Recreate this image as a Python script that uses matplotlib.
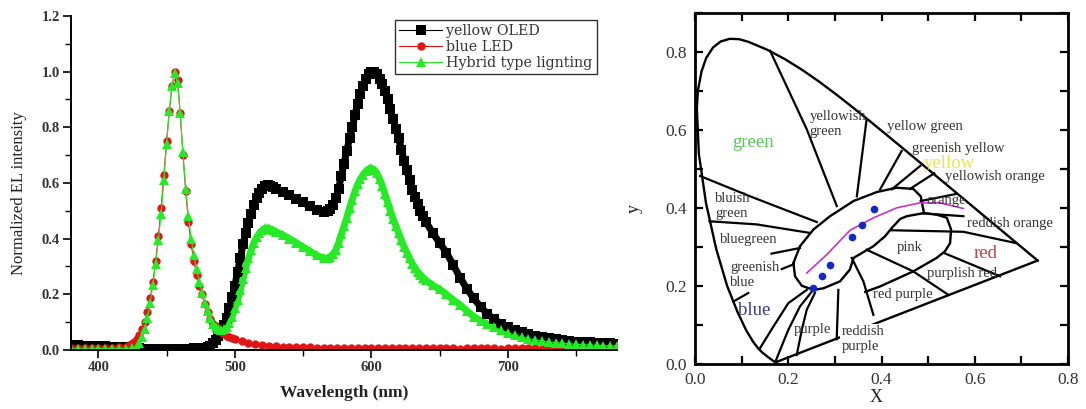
import matplotlib
matplotlib.use('Agg')
import matplotlib.pyplot as plt
from matplotlib.ticker import MultipleLocator, FormatStrFormatter

plt.rcParams['font.family'] = ['Liberation Serif', 'DejaVu Serif']

# ---------------- EL spectra ----------------
oled_nm = [380, 385, 390, 395, 400, 405, 410, 415, 420, 425, 430, 435, 440, 445, 450, 455, 460, 465, 470, 475,
           480, 482, 484, 486, 488, 490, 492, 494, 496, 498, 500, 502, 504, 506, 508, 510, 512, 514, 516, 518,
           520, 522, 524, 526, 528, 530,
           535, 540, 545, 550, 555, 560, 565,
           568, 570, 572, 574, 576, 578, 580, 582, 584, 586, 588, 590, 592, 594, 596, 598, 600, 602, 604, 606,
           608, 610, 612, 614, 616, 618, 620, 622, 624, 626, 628, 630, 632, 634, 636, 638, 640,
           645, 650, 655, 660, 665, 670, 675, 680, 685, 690, 695, 700, 705, 710, 715, 720, 725, 730, 735, 740,
           745, 750, 755, 760, 765, 770, 775, 780]
oled_el = [0.018, 0.017, 0.016, 0.015, 0.014, 0.013, 0.012, 0.011, 0.009, 0.007, 0.006, 0.005, 0.005, 0.005,
           0.005, 0.005, 0.005, 0.005, 0.006, 0.007,
           0.010, 0.015, 0.025, 0.035, 0.05, 0.07, 0.09, 0.115, 0.15, 0.19, 0.23, 0.28, 0.33, 0.38, 0.42, 0.455,
           0.49, 0.52, 0.545, 0.565, 0.58, 0.588, 0.592, 0.59, 0.586, 0.58,
           0.568, 0.556, 0.543, 0.53, 0.516, 0.503, 0.497,
           0.50, 0.505, 0.52, 0.545, 0.58, 0.625, 0.67, 0.715, 0.76, 0.80, 0.845, 0.885, 0.92, 0.95, 0.975, 0.993,
           1.0, 0.998, 0.99, 0.975, 0.955, 0.93, 0.90, 0.865, 0.83, 0.795, 0.76, 0.72, 0.68, 0.645, 0.61, 0.575,
           0.55, 0.525, 0.50, 0.48, 0.46,
           0.42, 0.385, 0.35, 0.305, 0.26, 0.22, 0.185, 0.155, 0.13, 0.11, 0.095, 0.083, 0.073, 0.065, 0.057,
           0.051, 0.046, 0.042, 0.038, 0.035, 0.032, 0.03, 0.028, 0.027, 0.026, 0.025, 0.024, 0.023]

led_nm = [380, 385, 390, 395, 400, 405, 410, 415, 420,
          422, 424, 426, 428, 430, 432, 434, 436, 438, 440, 442, 444, 446, 448, 450, 452, 454, 456, 458, 460,
          462, 464, 466, 468, 470, 472, 474, 476, 478, 480, 482, 484, 486, 488, 490, 492, 494, 496, 498, 500,
          505, 510, 515, 520, 525, 530, 535, 540, 545, 550, 555, 560, 565, 570, 575, 580, 585, 590, 595, 600,
          605, 610, 615, 620, 625, 630, 635, 640, 645, 650, 655, 660, 665, 670, 675, 680, 685, 690, 695, 700,
          705, 710, 715, 720, 725, 730, 735, 740, 745, 750, 755, 760, 765, 770, 775, 780]
led_el = [0.006, 0.006, 0.006, 0.006, 0.007, 0.007, 0.008, 0.009, 0.012,
          0.015, 0.02, 0.028, 0.04, 0.055, 0.075, 0.10, 0.135, 0.185, 0.245, 0.32, 0.41, 0.51, 0.63, 0.75, 0.86,
          0.95, 1.0, 0.97, 0.85, 0.70, 0.57, 0.46, 0.38, 0.32, 0.27, 0.23, 0.20, 0.165, 0.135, 0.11, 0.095,
          0.085, 0.075, 0.066, 0.058, 0.052, 0.047, 0.043, 0.039,
          0.031, 0.025, 0.02, 0.017, 0.015, 0.013, 0.012, 0.011, 0.01, 0.009, 0.009, 0.008, 0.008, 0.008, 0.007,
          0.008, 0.007, 0.007, 0.007, 0.007, 0.006, 0.007, 0.006, 0.006, 0.006, 0.007, 0.006, 0.006, 0.007,
          0.006, 0.006, 0.006, 0.005, 0.006, 0.006, 0.007, 0.006, 0.006, 0.005, 0.006, 0.006, 0.007, 0.006,
          0.006, 0.005, 0.005, 0.006, 0.005, 0.005, 0.005, 0.005, 0.005, 0.005, 0.005, 0.005, 0.005]

hybrid_nm = [380, 385, 390, 395, 400, 405, 410, 415, 420, 425,
             428, 430, 432, 434, 436, 438, 440, 442, 444, 446, 448, 450, 452, 454, 456, 458, 460, 462, 464, 466,
             468, 470, 472, 474, 476, 478, 480, 482, 484, 486, 488, 490, 492, 494, 496, 498, 500,
             502, 504, 506, 508, 510, 512, 514, 516, 518, 520, 522, 524, 526, 528, 530,
             535, 540, 545, 550, 555, 560, 565,
             568, 570, 572, 574, 576, 578, 580, 582, 584, 586, 588, 590, 592, 594, 596, 598, 600, 602, 604, 606,
             608, 610, 612, 614, 616, 618, 620, 622, 624, 626, 628, 630, 632, 634, 636, 638, 640,
             645, 650, 655, 660, 665, 670, 675, 680, 685, 690, 695, 700, 705, 710, 715, 720, 725, 730, 735, 740,
             745, 750, 755, 760, 765, 770, 775, 780]
hybrid_el = [0.004, 0.004, 0.004, 0.004, 0.005, 0.005, 0.005, 0.005, 0.005, 0.006,
             0.012, 0.025, 0.045, 0.075, 0.115, 0.17, 0.235, 0.31, 0.395, 0.49, 0.61, 0.74, 0.86, 0.95, 0.995,
             0.96, 0.85, 0.71, 0.58, 0.48, 0.40, 0.34, 0.29, 0.245, 0.205, 0.17, 0.14, 0.115, 0.095, 0.082, 0.075,
             0.072, 0.075, 0.084, 0.098, 0.12, 0.15,
             0.18, 0.215, 0.255, 0.295, 0.33, 0.36, 0.385, 0.405, 0.42, 0.43, 0.437, 0.437, 0.434, 0.43, 0.425,
             0.413, 0.40, 0.385, 0.37, 0.355, 0.34, 0.33,
             0.33, 0.335, 0.345, 0.36, 0.385, 0.415, 0.445, 0.475, 0.51, 0.54, 0.57, 0.595, 0.615, 0.63, 0.642,
             0.65, 0.653, 0.648, 0.635, 0.615, 0.59, 0.56, 0.53, 0.50, 0.47, 0.445, 0.42, 0.395, 0.37, 0.35,
             0.33, 0.31, 0.295, 0.28, 0.27, 0.258, 0.25,
             0.232, 0.218, 0.20, 0.18, 0.162, 0.14, 0.12, 0.105, 0.093, 0.082, 0.071, 0.062, 0.054, 0.047, 0.041,
             0.036, 0.032, 0.029, 0.026, 0.024, 0.022, 0.02, 0.019, 0.018, 0.017, 0.016, 0.015, 0.015]

# ---------------- CIE 1931 diagram ----------------
locus_x = [0.1741, 0.1733, 0.1714, 0.1689, 0.1644, 0.1566, 0.1440, 0.1355, 0.1241, 0.1096, 0.0913, 0.0687,
           0.0454, 0.0235, 0.0082, 0.0039, 0.0060, 0.0139, 0.0240, 0.0389, 0.0550, 0.0743, 0.0940, 0.1142,
           0.1547, 0.1929, 0.2296, 0.2658, 0.3016, 0.3373, 0.3731, 0.4087, 0.4441, 0.4788, 0.5125, 0.5448,
           0.5752, 0.6029, 0.6270, 0.6658, 0.6915, 0.7079, 0.7190, 0.7260, 0.7300, 0.7334, 0.7347]
locus_y = [0.0050, 0.0048, 0.0051, 0.0069, 0.0109, 0.0177, 0.0297, 0.0399, 0.0578, 0.0868, 0.1327, 0.2007,
           0.2950, 0.4127, 0.5384, 0.6548, 0.7000, 0.7502, 0.7850, 0.8120, 0.8270, 0.8338, 0.8330, 0.8262,
           0.8059, 0.7816, 0.7543, 0.7243, 0.6923, 0.6589, 0.6245, 0.5896, 0.5547, 0.5202, 0.4866, 0.4544,
           0.4242, 0.3965, 0.3725, 0.3340, 0.3083, 0.2920, 0.2809, 0.2740, 0.2700, 0.2666, 0.2653]

# colour region boundaries, each a polyline of (x, y)
boundaries = [
    [(0.161, 0.803), (0.2395, 0.602), (0.304, 0.405)],
    [(0.368, 0.628), (0.347, 0.430)],
    [(0.443, 0.546), (0.397, 0.448)],
    [(0.483, 0.508), (0.422, 0.448)],
    [(0.513, 0.489), (0.461, 0.449)],
    [(0.560, 0.436), (0.484, 0.418)],
    [(0.5755, 0.379), (0.491, 0.386)],
    [(0.420, 0.343), (0.5755, 0.339), (0.6885, 0.310)],
    [(0.011, 0.482), (0.118, 0.430), (0.261, 0.364)],
    [(0.031, 0.366), (0.132, 0.358), (0.247, 0.336)],
    [(0.164, 0.283), (0.225, 0.2975)],
    [(0.186, 0.2435), (0.2095, 0.2547)],
    [(0.082, 0.160), (0.114, 0.182)],
    [(0.139, 0.040), (0.168, 0.096), (0.200, 0.156), (0.2395, 0.190)],
    [(0.173, 0.008), (0.200, 0.0875), (0.225, 0.1475), (0.250, 0.185)],
    [(0.218, 0.023), (0.229, 0.0875), (0.2395, 0.139), (0.257, 0.182)],
    [(0.3074, 0.190), (0.3038, 0.0635)],
    [(0.336, 0.272), (0.361, 0.212), (0.3825, 0.126)],
    [(0.368, 0.293), (0.468, 0.2375), (0.543, 0.1775)],
    [(0.533, 0.285), (0.654, 0.225)],
]

# white (achromatic) region and pink region outlines
white_x = [0.211, 0.225, 0.254, 0.2895, 0.340, 0.390, 0.4325, 0.468, 0.484, 0.491, 0.454, 0.440, 0.422,
           0.4075, 0.3825, 0.340, 0.332, 0.311, 0.275, 0.254, 0.229, 0.2145, 0.211]
white_y = [0.259, 0.302, 0.345, 0.379, 0.418, 0.441, 0.452, 0.449, 0.430, 0.387, 0.379, 0.372, 0.349,
           0.3275, 0.302, 0.272, 0.242, 0.212, 0.194, 0.190, 0.2006, 0.2246, 0.259]
pink_x = [0.491, 0.518, 0.540, 0.549, 0.547, 0.536, 0.518, 0.468, 0.397, 0.365]
pink_y = [0.387, 0.383, 0.375, 0.345, 0.310, 0.289, 0.272, 0.2375, 0.199, 0.185]

# Planckian locus and measured colour points
planck_x = [0.2395, 0.2824, 0.3324, 0.3825, 0.4325, 0.4826, 0.5255, 0.5755]
planck_y = [0.2332, 0.2804, 0.343, 0.3747, 0.4004, 0.4133, 0.4133, 0.3987]
cie_x = [0.2538, 0.2717, 0.2903, 0.3367, 0.3575, 0.3832]
cie_y = [0.1946, 0.2247, 0.2529, 0.3258, 0.3576, 0.3979]

region_names = ['green', 'yellowish\ngreen', 'yellow green', 'greenish yellow', 'yellow', 'yellowish orange',
                'orange', 'reddish orange', 'red', 'pink', 'purplish red', 'red purple', 'purple',
                'reddish\npurple', 'blue', 'greenish\nblue', 'bluegreen', 'bluish\ngreen']
region_xy = [(0.079, 0.568), (0.245, 0.615), (0.411, 0.610), (0.465, 0.552), (0.490, 0.514), (0.536, 0.482),
             (0.497, 0.418), (0.583, 0.360), (0.597, 0.283), (0.4325, 0.2975), (0.497, 0.233), (0.3825, 0.1775),
             (0.211, 0.0875), (0.3146, 0.064), (0.093, 0.137), (0.075, 0.229), (0.054, 0.319), (0.043, 0.405)]
accent = {'green': '#55c855', 'yellow': '#e6e64a', 'red': '#c83c3c', 'blue': '#363696'}

fig = plt.figure(figsize=(10.86, 4.09), dpi=100)

# ---------- left: spectra ----------
ax1 = fig.add_axes([0.0654, 0.1443, 0.5028, 0.8166])
BLACK, RED, GREEN = 'k', '#e01515', '#26ea26'

# thick band under the dense markers (OLED emission part only for the hybrid curve)
hyb_start = hybrid_nm.index(482)
ax1.plot(oled_nm, oled_el, color=BLACK, lw=5, solid_capstyle='butt')
ax1.plot(hybrid_nm[hyb_start:], hybrid_el[hyb_start:], color=GREEN, lw=5, solid_capstyle='butt')

ax1.plot(oled_nm, oled_el, '-s', color=BLACK, ms=7, mew=0, lw=0.8, label='yellow OLED')
ax1.plot(led_nm, led_el, '-o', color=RED, ms=6, mew=0, lw=0.8, label='blue LED')
ax1.plot(hybrid_nm, hybrid_el, '-^', color=GREEN, ms=7.5, mew=0, lw=0.8, label='Hybrid type lignting')
ax1.set_xlim(380, 780)
ax1.set_ylim(0, 1.2)
ax1.spines['top'].set_visible(False)
ax1.spines['right'].set_visible(False)
for s in ['left', 'bottom']:
    ax1.spines[s].set_linewidth(1.4)
ax1.xaxis.set_major_locator(MultipleLocator(100))
ax1.xaxis.set_minor_locator(MultipleLocator(50))
ax1.yaxis.set_major_locator(MultipleLocator(0.2))
ax1.yaxis.set_minor_locator(MultipleLocator(0.1))
ax1.yaxis.set_major_formatter(FormatStrFormatter('%.1f'))
ax1.tick_params(which='major', direction='out', length=6, width=1.2, labelsize=10.5,
                labelcolor='#333333', pad=2)
ax1.tick_params(which='minor', direction='out', length=4, width=1.0)
plt.setp(ax1.get_xticklabels() + ax1.get_yticklabels(), fontweight='bold')
ax1.set_xlabel('Wavelength (nm)', fontsize=12.5, fontweight='bold', color='#222222')
ax1.xaxis.set_label_coords(0.5, -0.105)
ax1.set_ylabel('Normalized EL intensity', fontsize=12, color='#222222')
ax1.yaxis.set_label_coords(-0.08, 0.47)
handles, labels = ax1.get_legend_handles_labels()
leg = fig.legend(handles, labels, loc='upper left', bbox_to_anchor=(0.3637, 0.951), frameon=True,
                 prop={'family': 'DejaVu Serif', 'size': 10.3},
                 fancybox=False, edgecolor='#333333', framealpha=1, handlelength=3.0, borderpad=0.3,
                 labelspacing=0.12, handletextpad=0.3, borderaxespad=0)
leg.get_frame().set_linewidth(1.0)
for t in leg.get_texts():
    t.set_color('#333333')

# ---------- right: CIE chromaticity ----------
ax2 = fig.add_axes([0.64, 0.11, 0.3435, 0.8582])
ax2.plot(locus_x, locus_y, color='k', lw=1.7)
ax2.plot([locus_x[0], locus_x[-1]], [locus_y[0], locus_y[-1]], color='k', lw=1.7)
for line in boundaries:
    ax2.plot([p[0] for p in line], [p[1] for p in line], color='k', lw=1.6)
ax2.plot(white_x, white_y, color='k', lw=1.7)
ax2.plot(pink_x, pink_y, color='k', lw=1.7)
ax2.plot(planck_x, planck_y, color='#c832c8', lw=1.2)
ax2.plot(cie_x, cie_y, 'o', color='#1428c8', ms=5.5, mew=0, zorder=6)

for name, (x, y) in zip(region_names, region_xy):
    if name in accent:
        ax2.text(x, y, name, color=accent[name], fontsize=13.5, ha='left', va='center')
    elif name == 'reddish\npurple':
        ax2.text(x, y, name, color='#333333', fontsize=10.5, ha='left', va='center', linespacing=1.2,
                 zorder=5, bbox=dict(facecolor='white', edgecolor='none', pad=1))
    else:
        ax2.text(x, y, name, color='#333333', fontsize=10.5, ha='left', va='center', linespacing=1.2)

ax2.set_xlim(0, 0.8)
ax2.set_ylim(0, 0.9)
for s in ax2.spines.values():
    s.set_linewidth(2)
ax2.xaxis.set_major_locator(MultipleLocator(0.2))
ax2.xaxis.set_minor_locator(MultipleLocator(0.1))
ax2.yaxis.set_major_locator(MultipleLocator(0.2))
ax2.yaxis.set_minor_locator(MultipleLocator(0.1))
ax2.xaxis.set_major_formatter(FormatStrFormatter('%.1f'))
ax2.yaxis.set_major_formatter(FormatStrFormatter('%.1f'))
ax2.tick_params(which='both', direction='in', top=True, right=True, length=6, width=1.6,
                labelsize=12.5, labelcolor='#333333', pad=6)
ax2.set_xlabel('X', fontsize=13, color='#222222')
ax2.xaxis.set_label_coords(0.485, -0.072)
ax2.set_ylabel('y', fontsize=13, color='#222222')
ax2.yaxis.set_label_coords(-0.14, 0.444)

fig.savefig('out.png', dpi=100, facecolor='white')
